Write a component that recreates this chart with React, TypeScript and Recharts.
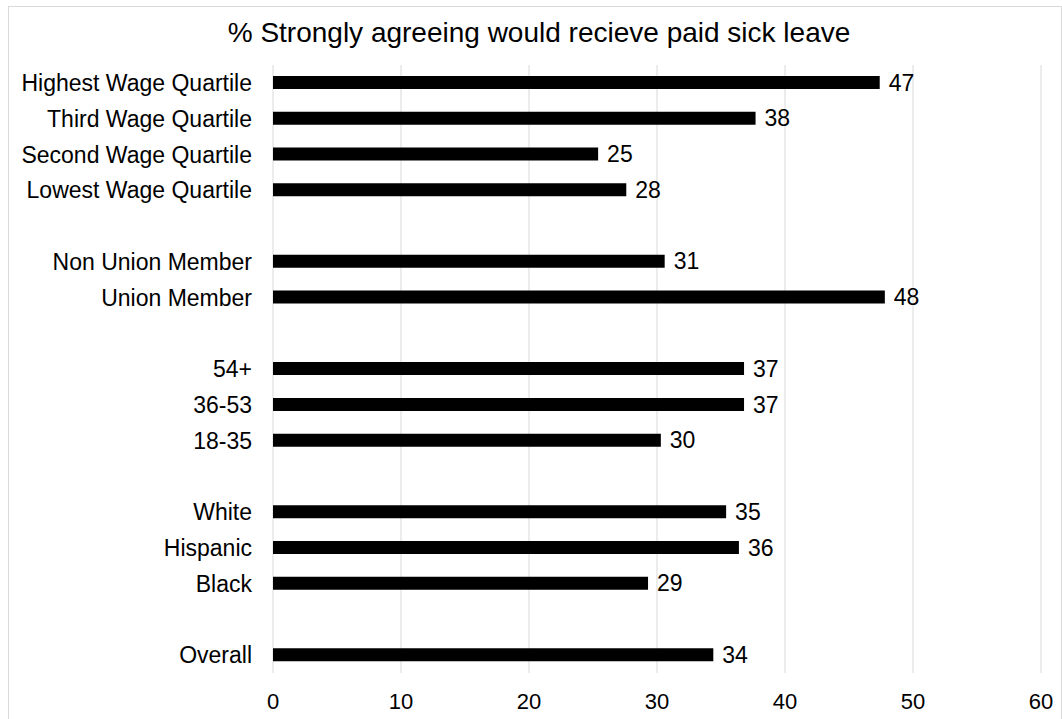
import { BarChart, Bar, XAxis, YAxis, CartesianGrid, LabelList } from 'recharts';

// blank entries are the spacer rows between groups
const categories = [
  'Highest Wage Quartile',
  'Third Wage Quartile',
  'Second Wage Quartile',
  'Lowest Wage Quartile',
  '',
  'Non Union Member',
  'Union Member',
  '',
  '54+',
  '36-53',
  '18-35',
  '',
  'White',
  'Hispanic',
  'Black',
  '',
  'Overall',
];

const values: (number | null)[] = [
  47.4, 37.7, 25.4, 27.6, null, 30.6, 47.8, null, 36.8, 36.8, 30.3, null, 35.4, 36.4, 29.3, null, 34.4,
];

const xTicks = [0, 10, 20, 30, 40, 50, 60];

const title = '% Strongly agreeing would recieve paid sick leave';

const FONT = '"Liberation Sans", Arial, sans-serif';

const chartData = categories.map((name, i) => ({ slot: i, name, value: values[i] }));

export default function App() {
  return (
    <div style={{ position: 'absolute', left: 0, top: 0, width: 1062, height: 719, background: '#fff', fontFamily: FONT }}>
      <div
        style={{
          position: 'absolute',
          left: 8,
          top: 6,
          width: 1054,
          height: 720,
          border: '1px solid #d9d9d9',
          boxSizing: 'border-box',
        }}
      />
      <div
        style={{
          position: 'absolute',
          left: 8,
          top: 19,
          width: 1062,
          textAlign: 'center',
          fontSize: 28,
          lineHeight: '28px',
          color: '#000',
        }}
      >
        {title}
      </div>
      <div style={{ position: 'absolute', left: 0, top: 0 }}>
        <BarChart
          width={1062}
          height={719}
          data={chartData}
          layout="vertical"
          margin={{ top: 65, right: 21, left: 0, bottom: 0 }}
        >
          <CartesianGrid horizontal={false} stroke="#d9d9d9" />
          <XAxis
            type="number"
            domain={[0, 60]}
            ticks={xTicks}
            height={46}
            tickLine={false}
            axisLine={false}
            tickSize={0}
            tickMargin={20}
            tick={{ fontSize: 22, fill: '#000', fontFamily: FONT }}
          />
          <YAxis
            type="category"
            dataKey="slot"
            width={273}
            interval={0}
            tickLine={false}
            axisLine={false}
            tickSize={0}
            tickMargin={21}
            tickFormatter={(v) => categories[Number(v)] ?? ''}
            tick={{ fontSize: 23, fill: '#000', fontFamily: FONT }}
          />
          <Bar dataKey="value" fill="#000" barSize={13} isAnimationActive={false}>
            <LabelList
              dataKey="value"
              position="right"
              offset={9}
              fontSize={23}
              fill="#000"
              fontFamily={FONT}
              formatter={(v: any) => (v == null ? '' : Math.round(Number(v)))}
            />
          </Bar>
        </BarChart>
      </div>
    </div>
  );
}
